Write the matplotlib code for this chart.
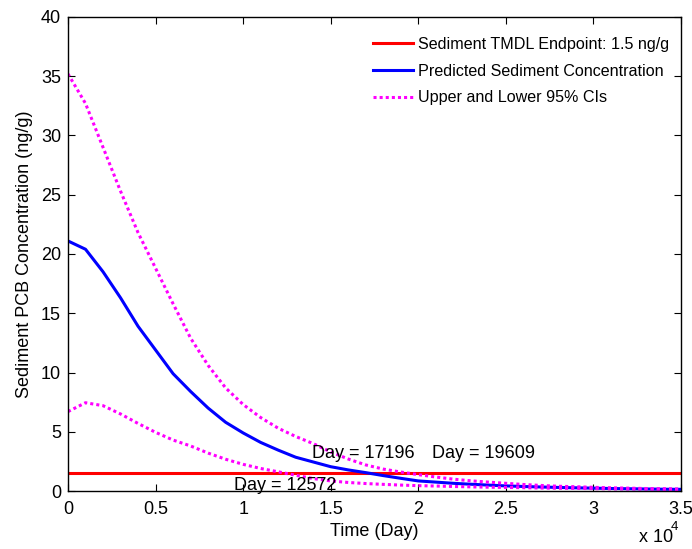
import matplotlib
matplotlib.use("Agg")
from matplotlib import pyplot as plt
from matplotlib.ticker import FuncFormatter

plt.rcParams['font.family'] = ['Liberation Sans', 'DejaVu Sans']

# time (days) and concentrations (ng/g)
days = [0, 1000, 2000, 3000, 4000, 5000, 6000, 7000, 8000, 9000, 10000,
        11000, 12000, 13000, 14000, 15000, 16000, 17000, 18000, 19000, 20000,
        21000, 22000, 23000, 24000, 25000, 26000, 27000, 28000, 29000, 30000,
        31000, 32000, 33000, 34000, 35000]
predicted = [21.1, 20.4, 18.5, 16.3, 13.9, 11.9, 9.9, 8.4, 7.0, 5.8, 4.9,
             4.1, 3.45, 2.85, 2.45, 2.05, 1.78, 1.55, 1.3, 1.07, 0.85,
             0.75, 0.65, 0.57, 0.5, 0.43, 0.38, 0.34, 0.3, 0.27, 0.24,
             0.21, 0.19, 0.17, 0.15, 0.14]
upper_ci = [35.2, 32.7, 29.0, 25.3, 21.8, 18.8, 15.8, 12.9, 10.6, 8.7, 7.3,
            6.2, 5.3, 4.6, 4.0, 3.3, 2.7, 2.2, 1.85, 1.6, 1.38,
            1.18, 1.0, 0.86, 0.75, 0.65, 0.55, 0.47, 0.4, 0.36, 0.31,
            0.27, 0.24, 0.21, 0.19, 0.17]
lower_ci = [6.7, 7.45, 7.2, 6.5, 5.7, 4.95, 4.3, 3.8, 3.2, 2.68, 2.25,
            1.9, 1.62, 1.33, 1.05, 0.85, 0.72, 0.63, 0.56, 0.5, 0.45,
            0.42, 0.38, 0.35, 0.32, 0.3, 0.28, 0.25, 0.23, 0.22, 0.2,
            0.18, 0.17, 0.16, 0.14, 0.13]
endpoint = 1.5
crossings = [12572, 17196, 19609]
labels = ['Sediment TMDL Endpoint: 1.5 ng/g', 'Predicted Sediment Concentration',
          'Upper and Lower 95% CIs']

fig = plt.figure(figsize=(6.92, 5.49), dpi=100)
ax = fig.add_axes([68 / 692, 1 - 491 / 549, 613 / 692, 474 / 549])

ax.plot([0, 35000], [endpoint, endpoint], '-', color='#ff0000', lw=2.2, label=labels[0])
ax.plot(days, predicted, '-', color='#0000ff', lw=2.2, label=labels[1])
ax.plot(days, upper_ci, color='#ff00ff', lw=2.2, ls=(0, (1, 1)), label=labels[2])
ax.plot(days, lower_ci, color='#ff00ff', lw=2.2, ls=(0, (1, 1)))

ax.text(crossings[0] - 3070, 0.5, 'Day = %d' % crossings[0], fontsize=13, va='center')
ax.text(crossings[1] - 3250, 3.2, 'Day = %d' % crossings[1], fontsize=13, va='center')
ax.text(crossings[2] + 1165, 3.2, 'Day = %d' % crossings[2], fontsize=13, va='center')

ax.set_xlim(0, 35000)
ax.set_ylim(0, 40)
ax.set_xticks(range(0, 35001, 5000))
ax.set_yticks(range(0, 41, 5))
ax.xaxis.set_major_formatter(FuncFormatter(lambda v, p: '%g' % (v / 1e4)))
ax.tick_params(direction='in', top=True, right=True, length=5, labelsize=13)
ax.tick_params(axis='x', pad=7)
ax.tick_params(axis='y', pad=5)
for s in ax.spines.values():
    s.set_linewidth(1.0)

ax.set_xlabel('Time (Day)', fontsize=13, labelpad=4)
ax.set_ylabel('Sediment PCB Concentration (ng/g)', fontsize=13)
ax.yaxis.set_label_coords(-(68 - 33) / 613, 0.5)

fig.text(639 / 692, 1 - 538 / 549, 'x 10', fontsize=13, va='center')
fig.text(671 / 692, 1 - 527 / 549, '4', fontsize=9.5, va='center')

ax.legend(loc='upper left', bbox_to_anchor=(373 / 692, 1 - 37 / 549),
          bbox_transform=fig.transFigure, frameon=False, fontsize=11.6,
          handlelength=2.5, handletextpad=0.3, labelspacing=0.72,
          borderpad=0, borderaxespad=0)

fig.savefig('out.png', dpi=100)
